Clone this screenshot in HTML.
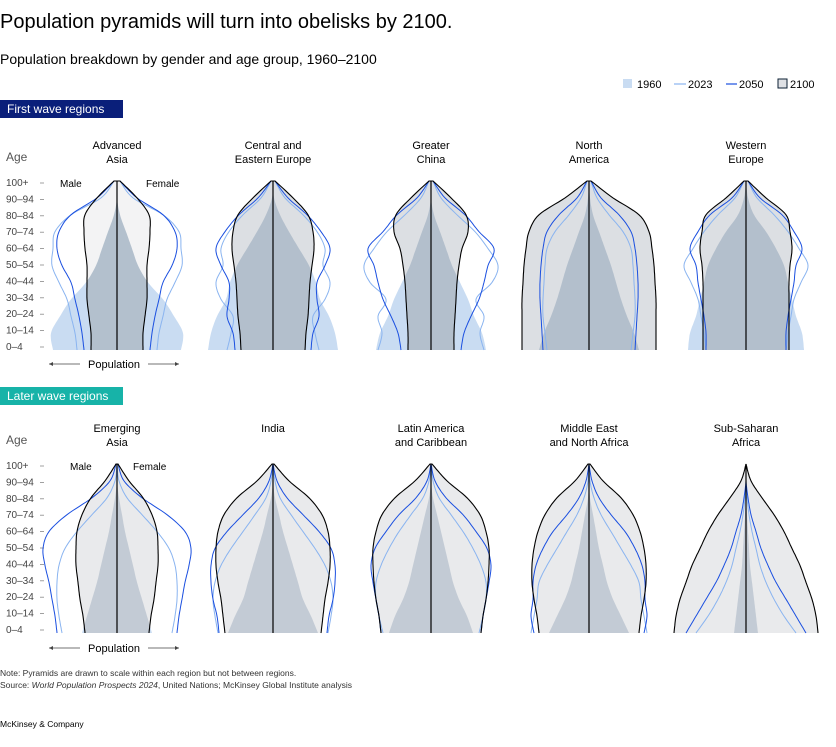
<!DOCTYPE html>
<html><head><meta charset="utf-8"><style>
body{margin:0;background:#fff;width:836px;height:742px;overflow:hidden;font-family:"Liberation Sans",sans-serif}
svg text{font-family:"Liberation Sans",sans-serif}
</style></head><body>
<svg id="s" width="836" height="742" xmlns="http://www.w3.org/2000/svg">
<text x="0" y="28" font-size="20" fill="#000">Population pyramids will turn into obelisks by 2100.</text>
<text x="0" y="64" font-size="14" fill="#000">Population breakdown by gender and age group, 1960–2100</text>
<rect x="623" y="79" width="9" height="9" fill="#c9dcf2"/><text x="637" y="88" font-size="11">1960</text>
<line x1="674" y1="84" x2="686" y2="84" stroke="#8ab4f0" stroke-width="1.2"/><text x="688" y="88" font-size="11">2023</text>
<line x1="726" y1="84" x2="737" y2="84" stroke="#1a4fe0" stroke-width="1.2"/><text x="739" y="88" font-size="11">2050</text>
<rect x="778" y="79" width="9" height="9" fill="#dfe1e5" stroke="#0b1f33"/><text x="790" y="88" font-size="11">2100</text>
<rect x="0" y="100" width="123" height="18" fill="#0a1f7a"/><text x="7" y="113" font-size="12" fill="#fff">First wave regions</text>
<rect x="0" y="387" width="123" height="18" fill="#17b3a8"/><text x="7" y="400" font-size="12" fill="#fff">Later wave regions</text>
<text x="0" y="676" font-size="8.5" fill="#333">Note: Pyramids are drawn to scale within each region but not between regions.</text>
<text x="0" y="688" font-size="8.5" fill="#333">Source: <tspan font-style="italic">World Population Prospects 2024</tspan>, United Nations; McKinsey Global Institute analysis</text>
<text x="0" y="727" font-size="8.5" fill="#000">McKinsey &amp; Company</text>
<g id="g"></g>
</svg>
<script>
const NS="http://www.w3.org/2000/svg";const g=document.getElementById('g');
function el(t,a,txt){const e=document.createElementNS(NS,t);for(const k in a)e.setAttribute(k,a[k]);if(txt!==undefined)e.textContent=txt;g.appendChild(e);return e;}
function pts(cx,base,top,w){const P=[];const n=w.length;
 for(let i=0;i<n;i++)P.push([w[i],base-(i/(n-1))*(base-top)]);
 const D=[];for(let i=0;i<n-1;i++){const p0=P[Math.max(0,i-1)],p1=P[i],p2=P[i+1],p3=P[Math.min(n-1,i+2)];
  for(let t=0;t<1;t+=0.125){const t2=t*t,t3=t2*t;
   const f=(a,b,c,d)=>0.5*(2*b+(-a+c)*t+(2*a-5*b+4*c-d)*t2+(-a+3*b-3*c+d)*t3);
   D.push([Math.max(0,f(p0[0],p1[0],p2[0],p3[0])),f(p0[1],p1[1],p2[1],p3[1])]);}}
 D.push(P[n-1]);return D;}
function shape(cx,base,top,w,closed){const D=pts(cx,base,top,w);
 let s="M"+(cx+D[0][0]).toFixed(1)+","+D[0][1].toFixed(1);
 for(const p of D)s+="L"+(cx+p[0]).toFixed(1)+","+p[1].toFixed(1);
 for(let i=D.length-1;i>=0;i--)s+="L"+(cx-D[i][0]).toFixed(1)+","+D[i][1].toFixed(1);
 if(closed)s+="Z";return s;}
let id=0;
function pyr(cx,base,top,d,fill2100,ov){
 const p60=shape(cx,base,top,d[0],1),p00=shape(cx,base,top,d[3],1);
 el('path',{d:p60,fill:'#c9dcf2'});
 el('path',{d:p00,fill:fill2100});
 const cid='c'+(id++);const cp=el('clipPath',{id:cid});const pp=document.createElementNS(NS,'path');pp.setAttribute('d',p00);cp.appendChild(pp);
 el('path',{d:p60,fill:ov,'clip-path':'url(#'+cid+')'});
 el('path',{d:shape(cx,base,top,d[1],0),fill:'none',stroke:'#8ab4f0','stroke-width':1});
 el('path',{d:shape(cx,base,top,d[2],0),fill:'none',stroke:'#1a4fe0','stroke-width':1});
 el('path',{d:shape(cx,base,top,d[3],0),fill:'none',stroke:'#000','stroke-width':1.1});
 el('line',{x1:cx,y1:base,x2:cx,y2:top,stroke:'#000','stroke-width':1.2});
}
function axis(y0,y1){const L=["100+","90–94","80–84","70–74","60–64","50–54","40–44","30–34","20–24","10–14","0–4"];
 L.forEach((l,i)=>{const y=y0+i*(y1-y0)/10;el('text',{x:6,y:y+4,'font-size':10,fill:'#444'},l);el('line',{x1:40,x2:44,y1:y+1,y2:y+1,stroke:'#888','stroke-width':0.8});});}
function titles(y,arr,cxs){arr.forEach((t,i)=>{t.forEach((l,j)=>el('text',{x:cxs[i],y:y+j*14,'font-size':11,'text-anchor':'middle'},l));});}
const cx=[117,273,431,589,746];
el('text',{x:6,y:161,'font-size':12,fill:'#555'},'Age');
axis(182,346);
titles(149,[["Advanced","Asia"],["Central and","Eastern Europe"],["Greater","China"],["North","America"],["Western","Europe"]],cx);
el('text',{x:60,y:187,'font-size':10},'Male');el('text',{x:146,y:187,'font-size':10},'Female');
const R1=[
[[64,66,57,46,31,21,15,9,3,0,0],[40,42,46,50,58,65,64,62,46,16,3],[33,35,38,42,46,55,60,58,46,20,3],[26,26,28,30,30,30,32,33,32,20,3]],
[[65,62,56,47,43,36,26,16,7,1,0],[46,42,40,52,57,50,52,44,30,12,2],[38,40,46,44,44,52,57,48,34,15,2],[32,33,35,36,37,39,41,40,35,20,2]],
[[55,51,43,37,29,21,15,9,3,0,0],[53,49,53,45,61,67,57,44,26,10,2],[30,33,40,48,53,57,63,48,34,14,2],[23,23,24,25,26,28,31,37,35,20,2]],
[[50,45,38,32,27,22,16,10,4,1,0],[42,44,46,46,45,44,42,34,20,8,2],[46,47,48,49,49,48,46,42,30,12,2],[67,67,67,67,66,65,63,60,50,24,2]],
[[58,56,50,46,42,38,30,20,8,2,0],[40,42,45,48,55,62,53,42,28,11,2],[40,40,42,45,48,50,56,48,36,14,2],[43,43,43,43,43,44,46,44,40,20,2]]];
const F1=['#f3f3f4','#dcdfe3','#dcdfe3','#dcdfe3','#dcdfe3'],O1=['#b3c0cd','#b3bfcc','#b3bfcc','#b3bfcc','#b3bfcc'];
R1.forEach((d,i)=>pyr(cx[i],350,181,d,F1[i],O1[i]));
el('text',{x:6,y:444,'font-size':12,fill:'#555'},'Age');
axis(465,629);
titles(432,[["Emerging","Asia"],["India"],["Latin America","and Caribbean"],["Middle East","and North Africa"],["Sub-Saharan","Africa"]],cx);
el('text',{x:70,y:470,'font-size':10},'Male');el('text',{x:133,y:470,'font-size':10},'Female');
const R2=[
[[35,30,25,20,16,12,8,5,2,0,0],[55,58,60,60,58,52,40,25,10,2,0],[60,62,65,68,72,74,68,50,25,7,1],[32,34,37,39,41,41,40,35,26,12,1]],
[[45,38,30,25,20,15,10,6,2,0,0],[55,58,60,58,52,42,30,18,7,2,0],[54,56,60,62,62,58,46,30,14,4,0],[48,50,52,55,57,57,55,49,36,16,1]],
[[42,36,28,22,18,14,10,6,2,0,0],[48,52,55,55,50,42,32,20,8,2,0],[50,52,55,58,60,56,45,32,15,4,0],[50,52,55,57,58,58,55,49,36,16,1]],
[[40,32,24,18,14,10,7,4,1,0,0],[58,55,52,50,42,32,22,12,5,1,0],[55,58,56,56,53,46,36,22,10,3,0],[50,52,55,57,57,55,51,44,32,14,1]],
[[12,10,8,6,4,3,2,1,0,0,0],[50,38,28,20,14,10,6,3,1,0,0],[60,50,40,30,22,15,10,5,2,0,0],[72,70,66,60,54,46,38,28,16,5,0]]];
R2.forEach((d,i)=>pyr(cx[i],633,464,d,'#e9eaec','#c3cbd5'));
[[364],[648]].forEach(([y])=>{el('line',{x1:49,x2:80,y1:y,y2:y,stroke:'#444','stroke-width':0.8});el('path',{d:`M49,${y}l4,-2v4z`,fill:'#444'});
 el('text',{x:114,y:y+4,'font-size':11,'text-anchor':'middle'},'Population');
 el('line',{x1:148,x2:179,y1:y,y2:y,stroke:'#444','stroke-width':0.8});el('path',{d:`M179,${y}l-4,-2v4z`,fill:'#444'});});
</script>
</body></html>
